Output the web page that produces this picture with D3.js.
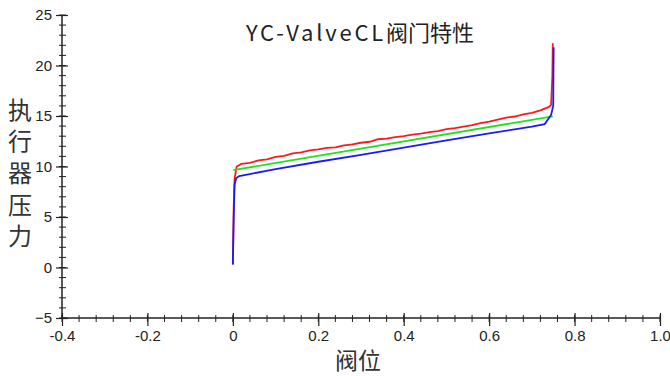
<!DOCTYPE html>
<html>
<head>
<meta charset="utf-8">
<script src="https://cdn.jsdelivr.net/npm/d3@7"></script>
<style>
  body { margin: 0; background: #fff; }
  svg { display: block; }
</style>
</head>
<body>
<svg id="chart" width="670" height="376"></svg>
<script>
// data
var redX = [0, 0.002, 0.004, 0.009, 0.02, 0.04, 0.06, 0.08, 0.10, 0.12, 0.14, 0.16, 0.18, 0.20, 0.22, 0.24, 0.26, 0.28, 0.30, 0.32, 0.34, 0.36, 0.38, 0.40, 0.42, 0.44, 0.46, 0.48, 0.50, 0.52, 0.54, 0.56, 0.58, 0.60, 0.62, 0.64, 0.66, 0.68, 0.70, 0.72, 0.74, 0.745, 0.748, 0.749];
var redY = [0.3, 6, 8.8, 10.0, 10.25, 10.35, 10.6, 10.7, 10.95, 11.05, 11.3, 11.4, 11.6, 11.7, 11.85, 11.9, 12.1, 12.2, 12.35, 12.45, 12.7, 12.75, 12.9, 13.0, 13.15, 13.25, 13.4, 13.5, 13.7, 13.8, 13.95, 14.1, 14.3, 14.45, 14.65, 14.85, 14.95, 15.15, 15.3, 15.55, 15.9, 16.1, 19, 22.2];
var greenX = [0.001, 0.749];
var greenY = [9.65, 14.97];
var blueX = [0, 0.002, 0.004, 0.008, 0.015, 0.1, 0.2, 0.3, 0.4, 0.5, 0.6, 0.7, 0.73, 0.745, 0.75, 0.751];
var blueY = [0.3, 5, 8.2, 8.85, 9.05, 9.75, 10.47, 11.15, 11.88, 12.58, 13.27, 13.95, 14.2, 15.1, 16.0, 21.8];

var xTicks = [-0.4, -0.2, 0, 0.2, 0.4, 0.6, 0.8, 1.0];
var xTickLabels = ['-0.4', '-0.2', '0', '0.2', '0.4', '0.6', '0.8', '1.0'];
var yTicks = [-5, 0, 5, 10, 15, 20, 25];

var series = [
	{ xs: redX, ys: redY, color: '#ff1a1a' },
	{ xs: greenX, ys: greenY, color: '#22e022' },
	{ xs: blueX, ys: blueY, color: '#1a1aff' }
];

var svg = d3.select('#chart');

var x = d3.scaleLinear().domain([-0.4, 1.0]).range([62, 660]);
var y = d3.scaleLinear().domain([-5, 25]).range([318, 15]);

var axisColor = '#222';
var tickFont = '"Liberation Sans", Arial, sans-serif';

// minor ticks
var xMinor = d3.range(-0.4, 1.0001, 0.04).map(function(v) { return +v.toFixed(2); });
var yMinor = d3.range(-5, 25.001, 1);

svg.append('g')
	.selectAll('line')
	.data(xMinor)
	.enter()
	.append('line')
	.attr('x1', function(d) { return x(d); })
	.attr('x2', function(d) { return x(d); })
	.attr('y1', 315)
	.attr('y2', 322)
	.style('stroke', axisColor);

svg.append('g')
	.selectAll('line')
	.data(yMinor)
	.enter()
	.append('line')
	.attr('x1', 59)
	.attr('x2', 66)
	.attr('y1', function(d) { return y(d); })
	.attr('y2', function(d) { return y(d); })
	.style('stroke', axisColor);

// x axis
var gx = svg.append('g')
	.attr('transform', 'translate(0,318)')
	.call(d3.axisBottom(x).tickValues(xTicks).tickSize(8)
		.tickFormat(function(d, i) { return xTickLabels[i]; }));
gx.selectAll('.tick line').attr('y1', -5).attr('y2', 8);
gx.select('.domain').attr('d', 'M62,0H660');
gx.selectAll('.tick text').attr('y', 12).style('font-size', '15px');

// y axis
var gy = svg.append('g')
	.attr('transform', 'translate(62,0)')
	.call(d3.axisLeft(y).tickValues(yTicks).tickSize(6));
gy.selectAll('.tick line').attr('x1', 6).attr('x2', -6);
gy.select('.domain').attr('d', 'M0,15V318');
gy.selectAll('.tick text').attr('x', -10).style('font-size', '15px');

svg.selectAll('.domain').style('stroke', axisColor).style('stroke-width', 1.5);
svg.selectAll('.tick line').style('stroke', axisColor).style('stroke-width', 1.2);
svg.selectAll('.tick text').style('fill', '#222').style('font-family', tickFont);

// lines
var line = d3.line()
	.x(function(d) { return x(d[0]); })
	.y(function(d) { return y(d[1]); });

svg.selectAll('.series')
	.data(series)
	.enter()
	.append('path')
	.attr('class', 'series')
	.attr('d', function(s) { return line(s.xs.map(function(v, i) { return [v, s.ys[i]]; })); })
	.style('fill', 'none')
	.style('stroke', function(s) { return s.color; })
	.style('stroke-width', 1.8);

// title
var cjk = '"Noto Sans CJK SC", "Noto Sans", sans-serif';
var title = svg.append('text')
	.attr('x', 360)
	.attr('y', 41)
	.attr('text-anchor', 'middle')
	.style('font-family', cjk)
	.style('font-size', '22px')
	.style('fill', '#222');
title.append('tspan').style('letter-spacing', '2.8px').text('YC-ValveCL');
title.append('tspan').text('阀门特性');

// axis titles
var yLabel = ['执', '行', '器', '压', '力'];
svg.selectAll('.ylab')
	.data(yLabel)
	.enter()
	.append('text')
	.attr('class', 'ylab')
	.attr('x', 20)
	.attr('y', function(d, i) { return 108 + i * 31.7; })
	.attr('text-anchor', 'middle')
	.attr('dominant-baseline', 'central')
	.style('font-family', cjk)
	.style('font-size', '24px')
	.style('fill', '#333')
	.text(function(d) { return d; });

svg.append('text')
	.attr('x', 358)
	.attr('y', 359)
	.attr('text-anchor', 'middle')
	.attr('dominant-baseline', 'central')
	.style('font-family', cjk)
	.style('font-size', '23px')
	.style('fill', '#333')
	.text('阀位');
</script>
</body>
</html>
